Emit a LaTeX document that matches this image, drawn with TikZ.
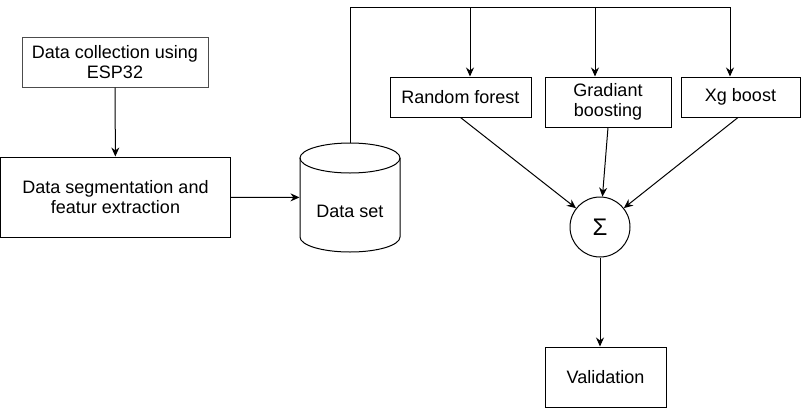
\documentclass[tikz,border=0pt]{standalone}
\usepackage{fontspec}
\setmainfont{Liberation Sans}
\usetikzlibrary{arrows.meta,calc}
\begin{document}
\begin{tikzpicture}[x=1pt,y=-1pt,line width=1pt,
  every node/.style={font=\fontsize{18}{20.5}\selectfont},
  box/.style={draw,rectangle,align=center,inner sep=0pt},
  arr/.style={-{Stealth[length=9pt,width=8pt]}}]
\useasboundingbox (0,0) rectangle (801,408);
\node[box,draw=black!70,minimum width=186,minimum height=50] (dc) at (115,62) {Data collection using\\ESP32};
\node[box,minimum width=230,minimum height=80] (seg) at (115.5,197) {Data segmentation and\\featur extraction};
\node[minimum width=100,minimum height=109,inner sep=0pt] (ds) at (350,197.5) {};
\node (dslabel) at ([yshift=-14]ds.center) {Data set};
\draw (300,158) -- (300,237) arc[start angle=180,end angle=0,x radius=50,y radius=15] -- (400,158);
\draw (350,158) ellipse[x radius=50,y radius=15];
\node[box,minimum width=141,minimum height=40] (rf) at (460.5,97) {Random forest};
\node[box,minimum width=126,minimum height=50] (gb) at (608,102) {Gradiant\\boosting};
\node[box,minimum width=119,minimum height=40] (xg) at (740.5,97) {Xg boost};
\node[draw,circle,minimum size=60,inner sep=0pt,font=\fontsize{24}{24}\selectfont] (sig) at (600,227) {Σ};
\node[box,minimum width=121,minimum height=60] (val) at (605.5,377) {Validation};
\coordinate (bus) at (350,7);
\coordinate (rfin) at ([xshift=9.5]rf.north);
\coordinate (gbin) at ([xshift=-13]gb.north);
\coordinate (xgin) at ([xshift=-10.5]xg.north);
\draw[arr] (dc) -- (seg);
\draw[arr] (seg) -- (ds);
\draw[arr] (ds.north) -- (bus) -| (xgin);
\draw[arr] (bus -| rfin) -- (rfin);
\draw[arr] (bus -| gbin) -- (gbin);
\draw[arr] (rf.south) -- (sig);
\draw[arr] (gb.south) -- (sig);
\draw[arr] ([xshift=-2.5]xg.south) -- (sig);
\draw[arr] (sig.south) -- (sig.south |- val.north);
\end{tikzpicture}
\end{document}
